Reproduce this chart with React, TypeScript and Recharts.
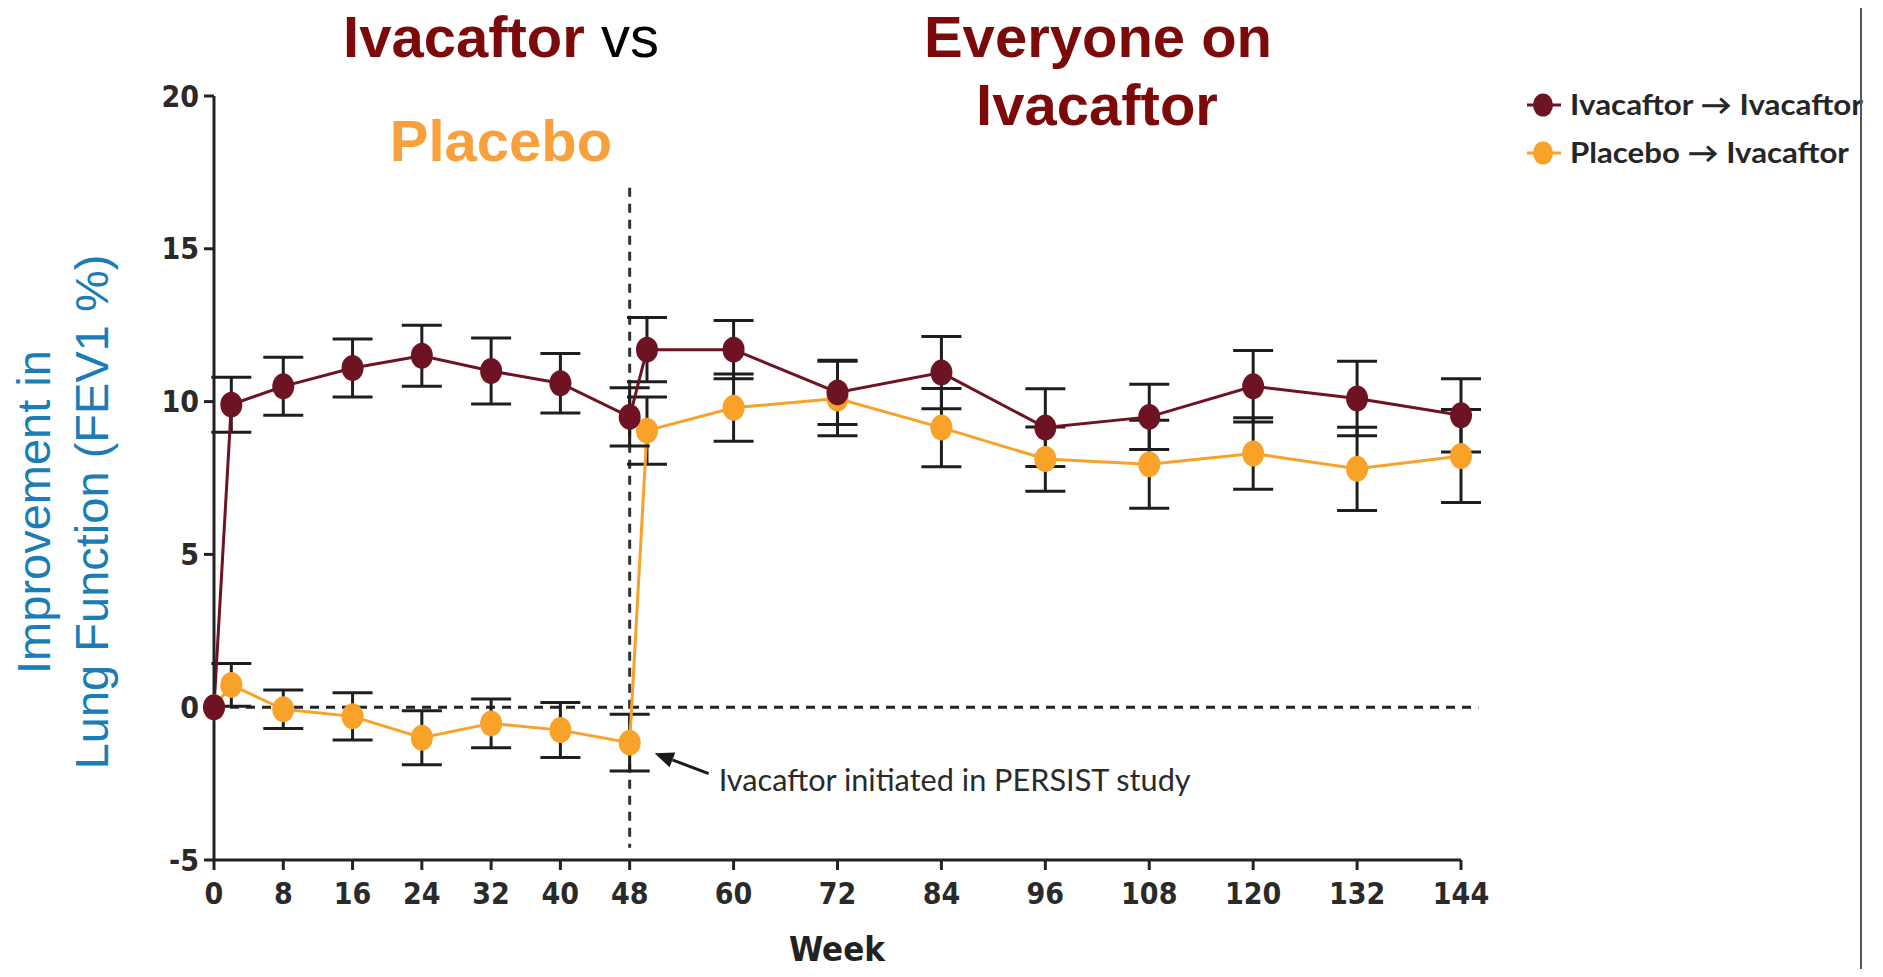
import { LineChart, Line, XAxis, YAxis, ErrorBar, ReferenceLine, ReferenceDot, Legend } from 'recharts';

// Mean change in FEV1 (% predicted) by study week, with error bar half-widths
const weeks = [0, 2, 8, 16, 24, 32, 40, 48, 50, 60, 72, 84, 96, 108, 120, 132, 144];
const ivacaftorMean = [0, 9.9, 10.5, 11.1, 11.5, 11.0, 10.6, 9.5, 11.7, 11.7, 10.3, 10.95, 9.15, 9.5, 10.5, 10.1, 9.55];
const ivacaftorErr = [null, 0.9, 0.95, 0.95, 1.0, 1.08, 0.97, 0.95, 1.05, 0.95, 1.05, 1.18, 1.27, 1.07, 1.17, 1.22, 1.2];
const placeboMean = [0, 0.73, -0.07, -0.3, -1.0, -0.53, -0.75, -1.16, 9.05, 9.8, 10.1, 9.15, 8.12, 7.95, 8.3, 7.8, 8.22];
const placeboErr = [null, 0.7, 0.63, 0.77, 0.88, 0.8, 0.9, 0.93, 1.1, 1.1, 1.22, 1.28, 1.05, 1.44, 1.17, 1.36, 1.52];

const weekTicks = [0, 8, 16, 24, 32, 40, 48, 60, 72, 84, 96, 108, 120, 132, 144];
const fev1Ticks = [-5, 0, 5, 10, 15, 20];
const seriesNames = ['Ivacaftor \u2192 Ivacaftor', 'Placebo \u2192 Ivacaftor'];

const MAROON = '#6e1324';
const ORANGE = '#f8a22a';
const AXIS = '#222';
const TICK_FONT = '"DejaVu Sans Condensed", "DejaVu Sans", sans-serif';

const chartData = weeks.map((week, i) => ({
  week,
  iva: ivacaftorMean[i],
  ivaErr: ivacaftorErr[i],
  pla: placeboMean[i],
  plaErr: placeboErr[i],
}));

const W = 1867;
const H = 961;

const ovalDot = (color: string) => (props: any) => {
  const { cx, cy, index } = props;
  if (cx == null || cy == null) return <g key={`d-${index}`} />;
  return <ellipse key={`d-${index}`} cx={cx} cy={cy} rx={11} ry={13} fill={color} />;
};

// Arrow + caption pointing at the last placebo-phase point
const SwitchNote = (props: any) => {
  const { cx, cy } = props;
  const tipX = cx + 25;
  const tipY = cy + 10.5;
  const tailX = cx + 79;
  const tailY = cy + 31;
  const ang = Math.atan2(tipY - tailY, tipX - tailX);
  const len = 19;
  const half = 8;
  const bx = tipX - len * Math.cos(ang);
  const by = tipY - len * Math.sin(ang);
  const head = `${tipX},${tipY} ${bx + half * Math.sin(ang)},${by - half * Math.cos(ang)} ${bx - half * Math.sin(ang)},${by + half * Math.cos(ang)}`;
  return (
    <g>
      <line x1={tailX} y1={tailY} x2={bx} y2={by} stroke="#1a1a1a" strokeWidth={3} />
      <polygon points={head} fill="#1a1a1a" />
      <text
        x={cx + 89}
        y={cy + 48}
        fontFamily="Lato, sans-serif"
        fontSize={30}
        fill="#2a2a2a"
        textLength={472}
        lengthAdjust="spacingAndGlyphs"
      >
        Ivacaftor initiated in PERSIST study
      </text>
    </g>
  );
};

const LegendBox = () => {
  const colors = [MAROON, ORANGE];
  const widths = [293, 279];
  return (
    <svg width={345} height={84} style={{ overflow: 'visible' }}>
      {seriesNames.map((name, i) => {
        const y = 17 + i * 48;
        return (
          <g key={name}>
            <line x1={2} x2={36} y1={y} y2={y} stroke={colors[i]} strokeWidth={3} />
            <ellipse cx={18} cy={y} rx={10} ry={11.5} fill={colors[i]} />
            <text
              x={45}
              y={y + 10}
              fontFamily="Lato, sans-serif"
              fontWeight={700}
              fontSize={28}
              fill="#262626"
              textLength={widths[i]}
              lengthAdjust="spacingAndGlyphs"
            >
              {name}
            </text>
          </g>
        );
      })}
    </svg>
  );
};

const tickStyle = { fill: '#2a2a2a', fontSize: 30, fontFamily: TICK_FONT, fontWeight: 700 };

export default function App() {
  return (
    <div style={{ position: 'relative', width: W, height: H }}>
      <LineChart width={W} height={H} data={chartData} margin={{ top: 88, right: 414, bottom: 79, left: 146 }}>
        <XAxis
          dataKey="week"
          type="number"
          domain={[0, 144]}
          ticks={weekTicks}
          interval={0}
          height={30}
          axisLine={{ stroke: AXIS, strokeWidth: 3 }}
          tickLine={{ stroke: AXIS, strokeWidth: 3 }}
          tickSize={10}
          tickMargin={13}
          tick={tickStyle}
        />
        <YAxis
          type="number"
          domain={[-5, 20]}
          ticks={fev1Ticks}
          interval={0}
          width={60}
          axisLine={{ stroke: AXIS, strokeWidth: 3 }}
          tickLine={{ stroke: AXIS, strokeWidth: 3 }}
          tickSize={10}
          tickMargin={5}
          tick={tickStyle}
        />
        <ReferenceLine
          segment={[{ x: 0, y: 0 }, { x: 146, y: 0 }]}
          stroke="#222"
          strokeWidth={3}
          strokeDasharray="9 7"
          ifOverflow="visible"
        />
        <ReferenceLine
          segment={[{ x: 48, y: 17.0 }, { x: 48, y: -4.6 }]}
          stroke="#333"
          strokeWidth={3}
          strokeDasharray="9 7"
          ifOverflow="visible"
        />
        <Line
          dataKey="pla"
          type="linear"
          stroke={ORANGE}
          strokeWidth={3}
          dot={ovalDot(ORANGE)}
          activeDot={false}
          isAnimationActive={false}
        >
          <ErrorBar dataKey="plaErr" direction="y" width={20} stroke="#1e1e1e" strokeWidth={3} />
        </Line>
        <Line
          dataKey="iva"
          type="linear"
          stroke={MAROON}
          strokeWidth={3}
          dot={ovalDot(MAROON)}
          activeDot={false}
          isAnimationActive={false}
        >
          <ErrorBar dataKey="ivaErr" direction="y" width={20} stroke="#1e1e1e" strokeWidth={3} />
        </Line>
        <ReferenceDot x={48} y={placeboMean[7]} r={0} ifOverflow="visible" shape={(p: any) => <SwitchNote {...p} />} />
        <Legend
          layout="vertical"
          align="center"
          verticalAlign="middle"
          wrapperStyle={{ top: 80, left: 1517, width: 345 }}
          content={() => <LegendBox />}
        />
      </LineChart>

      <svg
        width={W}
        height={H}
        style={{ position: 'absolute', left: 0, top: 0, overflow: 'visible', pointerEvents: 'none' }}
      >
        <g fontFamily='"Liberation Sans", Arial, sans-serif' fontSize={58} textAnchor="middle">
          <text x={493} y={49}>
            <tspan fill="#7c0a0a" fontWeight={700}>Ivacaftor</tspan>
            <tspan fill="#000"> vs</tspan>
          </text>
          <text x={493} y={153} fill="#f7a03c" fontWeight={700}>Placebo</text>
          <text x={1090} y={49} fill="#7c0a0a" fontWeight={700}>Everyone on</text>
          <text x={1089} y={117} fill="#7c0a0a" fontWeight={700}>Ivacaftor</text>
        </g>
        <g fontFamily='"Liberation Sans", Arial, sans-serif' fontSize={47} fill="#1b7db5" textAnchor="middle">
          <text transform="translate(42,504) rotate(-90)">Improvement in</text>
          <text transform="translate(100,504) rotate(-90)">Lung Function (FEV1 %)</text>
        </g>
        <text
          x={829}
          y={953}
          textAnchor="middle"
          fontFamily={TICK_FONT}
          fontWeight={700}
          fontSize={33}
          fill="#222"
          textLength={96}
          lengthAdjust="spacingAndGlyphs"
        >
          Week
        </text>
        <line x1={1853} x2={1853} y1={0} y2={961} stroke="#555" strokeWidth={2} />
      </svg>
    </div>
  );
}
